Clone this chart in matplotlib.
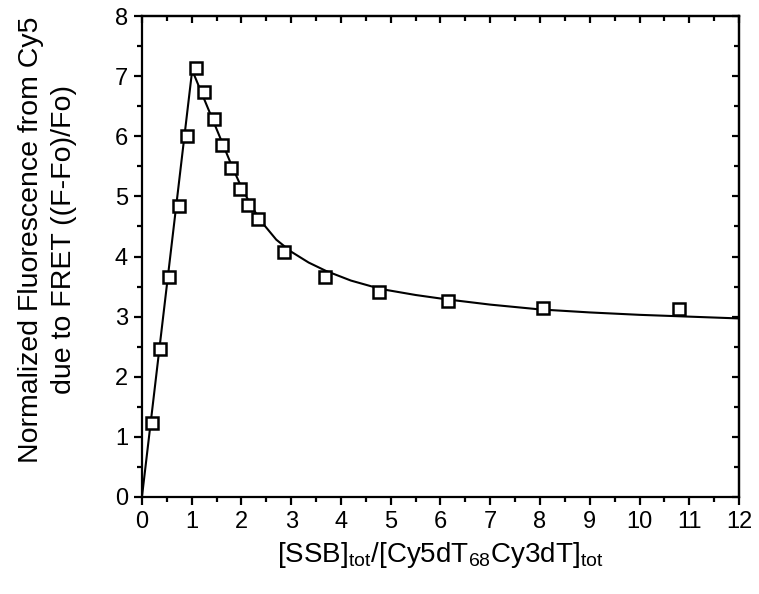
import matplotlib.pyplot as plt

plt.rcParams['font.family'] = ['Liberation Sans', 'DejaVu Sans']
plt.rcParams['mathtext.fontset'] = 'custom'
plt.rcParams['mathtext.rm'] = 'Liberation Sans'

# measured points (open squares)
ratio = [0.20, 0.36, 0.54, 0.74, 0.90, 1.08, 1.25, 1.44, 1.61, 1.80, 1.98,
         2.14, 2.33, 2.86, 3.68, 4.77, 6.16, 8.07, 10.80]
fret = [1.23, 2.46, 3.66, 4.84, 6.00, 7.13, 6.74, 6.29, 5.86, 5.47, 5.12,
        4.85, 4.62, 4.07, 3.66, 3.41, 3.26, 3.15, 3.12]

# fitted curve
fit_x = [0.0, 1.01, 1.2, 1.4, 1.6, 1.8, 2.0, 2.2, 2.4, 2.7, 3.0, 3.35,
         3.7, 4.2, 4.8, 5.5, 6.1, 7.0, 8.0, 9.0, 10.0, 11.0, 12.0]
fit_y = [0.0, 7.10, 6.72, 6.32, 5.92, 5.52, 5.15, 4.84, 4.58, 4.28, 4.08,
         3.90, 3.76, 3.60, 3.46, 3.36, 3.29, 3.20, 3.12, 3.07, 3.03, 3.00,
         2.97]

fig = plt.figure(figsize=(7.59, 5.94), dpi=100)
ax = fig.add_axes([0.187, 0.1633, 0.7867, 0.8097])

ax.plot(fit_x, fit_y, color='black', lw=1.5, zorder=2)
ax.plot(ratio, fret, linestyle='none', marker='s', markersize=9,
        markerfacecolor='white', markeredgecolor='black',
        markeredgewidth=1.8, zorder=3)

ax.set_xlim(0, 12)
ax.set_ylim(0, 8)
ax.set_xticks(range(0, 13))
ax.set_yticks(range(0, 9))
ax.set_xticks([i + 0.5 for i in range(12)], minor=True)
ax.set_yticks([i + 0.5 for i in range(8)], minor=True)

for s in ax.spines.values():
    s.set_linewidth(1.6)

ax.tick_params(which='major', direction='out', length=6, width=1.6,
               labelsize=17, pad=4)
ax.tick_params(which='minor', direction='out', length=3.5, width=1.6)

# inward ticks on top and right
top = ax.secondary_xaxis('top')
top.set_xticks(range(0, 13))
top.set_xticks([i + 0.5 for i in range(12)], minor=True)
top.tick_params(which='both', direction='in', width=1.6, labeltop=False)
top.tick_params(which='major', length=5)
top.tick_params(which='minor', length=3.5)
right = ax.secondary_yaxis('right')
right.set_yticks(range(0, 9))
right.set_yticks([i + 0.5 for i in range(8)], minor=True)
right.tick_params(which='both', direction='in', width=1.6, labelright=False)
right.tick_params(which='major', length=5)
right.tick_params(which='minor', length=3.5)
top.spines['top'].set_linewidth(1.6)
right.spines['right'].set_linewidth(1.6)

ax.set_xlabel(r'[SSB]$_{\rm tot}$/[Cy5dT$_{\rm 68}$Cy3dT]$_{\rm tot}$',
              fontsize=20, labelpad=5)

# two-line y label
fig.text(31.5 / 759, 1 - 240 / 594, 'Normalized Fluorescence from Cy5',
         rotation=90, ha='center', va='center', fontsize=20.5)
fig.text(64.5 / 759, 1 - 240 / 594, 'due to FRET ((F-Fo)/Fo)',
         rotation=90, ha='center', va='center', fontsize=20.5)

fig.savefig('out.png', dpi=100)
